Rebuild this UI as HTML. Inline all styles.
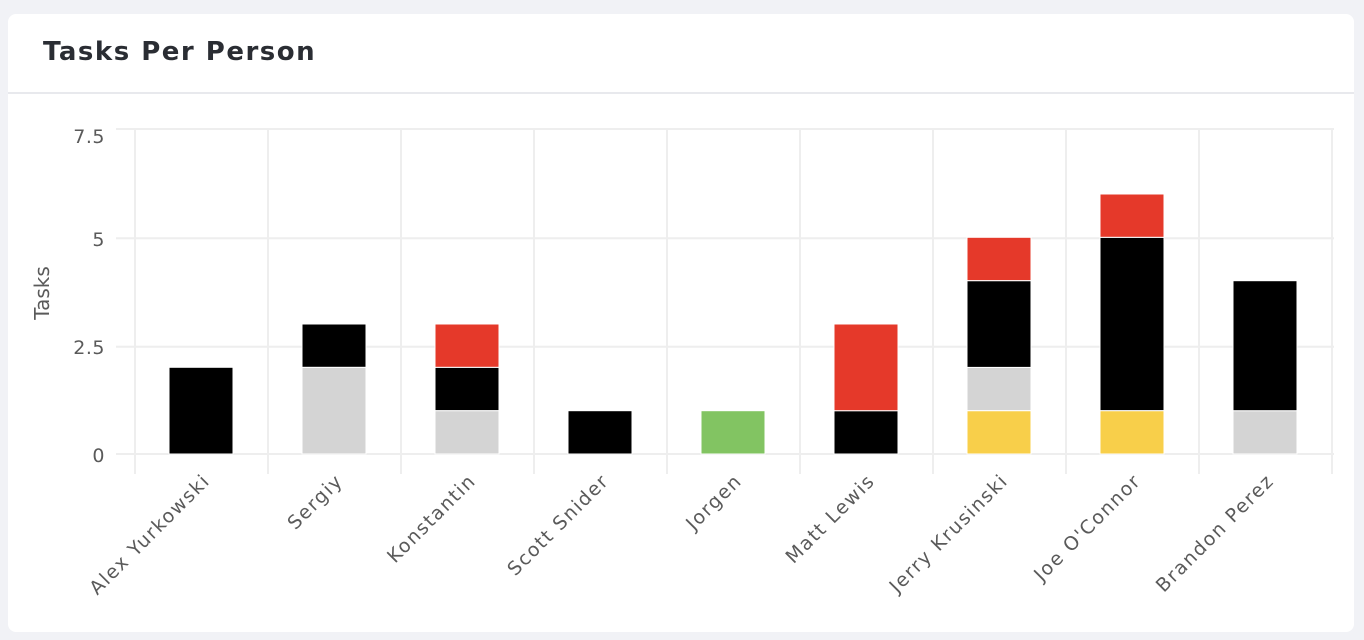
<!DOCTYPE html>
<html><head><meta charset="utf-8"><style>
body{margin:0;background:#f1f2f6;width:1364px;height:640px;overflow:hidden;font-family:"Liberation Sans",sans-serif}
.card{position:absolute;left:8px;top:14px;width:1346px;height:618px;background:#fff;border-radius:8px}
.title{position:absolute;left:35px;top:23px;font-family:"DejaVu Sans",sans-serif;font-size:26px;font-weight:bold;letter-spacing:1.5px;color:#2a2d33}
.hr{position:absolute;left:0;right:0;top:78px;height:2px;background:#e8e9ed}
svg{position:absolute;left:0;top:0}
</style></head><body>
<div class="card"><div class="title">Tasks Per Person</div><div class="hr"></div></div>
<svg width="1364" height="640" font-family="DejaVu Sans, sans-serif" fill="#5a5a5a">
<g stroke="#eeeeee" stroke-width="2">
<line x1="116" y1="454" x2="1334" y2="454"/><line x1="116" y1="346.7" x2="1334" y2="346.7"/><line x1="116" y1="238.3" x2="1334" y2="238.3"/><line x1="116" y1="129" x2="1334" y2="129"/>
<line x1="135" y1="129" x2="135" y2="474"/><line x1="268" y1="129" x2="268" y2="474"/><line x1="401" y1="129" x2="401" y2="474"/><line x1="534" y1="129" x2="534" y2="474"/><line x1="667" y1="129" x2="667" y2="474"/><line x1="800" y1="129" x2="800" y2="474"/><line x1="933" y1="129" x2="933" y2="474"/><line x1="1066" y1="129" x2="1066" y2="474"/><line x1="1199" y1="129" x2="1199" y2="474"/><line x1="1332" y1="129" x2="1332" y2="474"/>
</g>
<g font-size="19" text-anchor="end" letter-spacing="0.5"><text x="105" y="143">7.5</text><text x="105" y="246">5</text><text x="105" y="354">2.5</text><text x="105" y="462">0</text></g>
<text transform="translate(49,293) rotate(-90)" font-size="20" text-anchor="middle">Tasks</text>
<g stroke="#fff" stroke-width="1">
<rect x="169" y="367.3" width="64" height="86.7" fill="#000"/>
<rect x="302" y="367.3" width="64" height="86.7" fill="#d4d4d4"/><rect x="302" y="324" width="64" height="43.3" fill="#000"/>
<rect x="435" y="410.7" width="64" height="43.3" fill="#d4d4d4"/><rect x="435" y="367.3" width="64" height="43.3" fill="#000"/><rect x="435" y="324" width="64" height="43.3" fill="#e5392a"/>
<rect x="568" y="410.7" width="64" height="43.3" fill="#000"/>
<rect x="701" y="410.7" width="64" height="43.3" fill="#82c462"/>
<rect x="834" y="410.7" width="64" height="43.3" fill="#000"/><rect x="834" y="324" width="64" height="86.7" fill="#e5392a"/>
<rect x="967" y="410.7" width="64" height="43.3" fill="#f8cf4a"/><rect x="967" y="367.3" width="64" height="43.3" fill="#d4d4d4"/><rect x="967" y="280.7" width="64" height="86.7" fill="#000"/><rect x="967" y="237.3" width="64" height="43.3" fill="#e5392a"/>
<rect x="1100" y="410.7" width="64" height="43.3" fill="#f8cf4a"/><rect x="1100" y="237.3" width="64" height="173.3" fill="#000"/><rect x="1100" y="194" width="64" height="43.3" fill="#e5392a"/>
<rect x="1233" y="410.7" width="64" height="43.3" fill="#d4d4d4"/><rect x="1233" y="280.7" width="64" height="130" fill="#000"/>
</g>
<g font-size="19" text-anchor="end" letter-spacing="1.5">
<text transform="translate(211,482) rotate(-45)">Alex Yurkowski</text>
<text transform="translate(344,482) rotate(-45)">Sergiy</text>
<text transform="translate(477,482) rotate(-45)">Konstantin</text>
<text transform="translate(610,482) rotate(-45)">Scott Snider</text>
<text transform="translate(743,482) rotate(-45)">Jorgen</text>
<text transform="translate(876,482) rotate(-45)">Matt Lewis</text>
<text transform="translate(1009,482) rotate(-45)">Jerry Krusinski</text>
<text transform="translate(1142,482) rotate(-45)">Joe O'Connor</text>
<text transform="translate(1275,482) rotate(-45)">Brandon Perez</text>
</g>
</svg>
</body></html>
